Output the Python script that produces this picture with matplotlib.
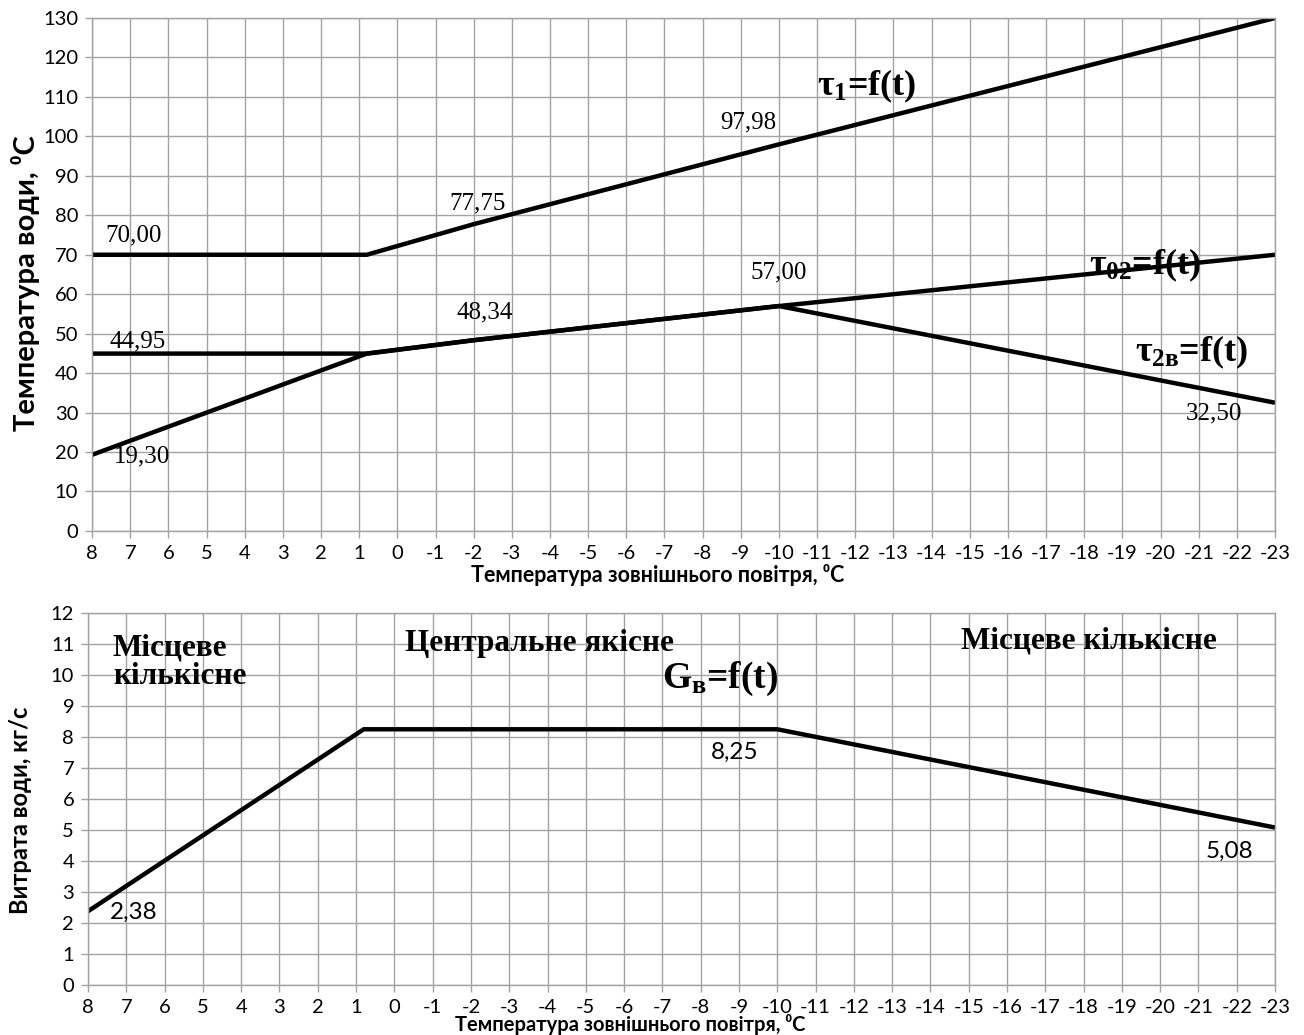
import matplotlib.pyplot as plt
import numpy as np

# --- дані графіка регулювання ---
t_axis = list(range(8, -24, -1))

t_tau1 = [8, 0.8, -2, -10, -23]
tau1 = [70.00, 70.00, 77.75, 97.98, 130.00]

t_tau02 = [8, 0.8, -2, -10, -23]
tau02 = [44.95, 44.95, 48.34, 57.00, 70.00]

t_tau2v = [8, 0.8, -2, -10, -23]
tau2v = [19.30, 44.95, 48.34, 57.00, 32.50]

t_G = [8, 0.8, -10, -23]
G = [2.38, 8.25, 8.25, 5.08]

plt.rcParams['mathtext.fontset'] = 'custom'
plt.rcParams['mathtext.rm'] = 'Liberation Serif:bold'
plt.rcParams['mathtext.it'] = 'Liberation Serif:bold'
plt.rcParams['mathtext.bf'] = 'Liberation Serif:bold'

sans = ['Lato', 'DejaVu Sans']
serif = ['Liberation Serif', 'DejaVu Serif']
grid_c = '#a3a3a3'


def style_axes(ax, ymax, ystep):
    ax.set_xlim(8, -23)
    ax.set_ylim(0, ymax)
    ax.set_xticks(t_axis)
    ax.set_xticklabels([str(v) for v in t_axis], fontsize=14.5, family=sans)
    yt = np.arange(0, ymax + 1, ystep)
    ax.set_yticks(yt)
    ax.set_yticklabels([str(int(v)) for v in yt], fontsize=14.5, family=sans)
    ax.grid(True, color=grid_c, linewidth=1)
    ax.set_axisbelow(True)
    for s in ax.spines.values():
        s.set_color(grid_c)
        s.set_linewidth(1)
    ax.tick_params(axis='both', colors=grid_c, length=5, width=1,
                   labelcolor='black', pad=5)


fig = plt.figure(figsize=(13.04, 10.35), dpi=100)

# верхній графік: температури води
ax1 = fig.add_axes([0.0706, 0.4870, 0.9072, 0.4956])
style_axes(ax1, 130, 10)
ax1.plot(t_tau1, tau1, color='black', lw=3.2, solid_capstyle='butt')
ax1.plot(t_tau02, tau02, color='black', lw=3.2, solid_capstyle='butt')
ax1.plot(t_tau2v, tau2v, color='black', lw=3.2, solid_capstyle='butt')

lbl = dict(fontsize=18, family=serif, ha='center', va='center')
ax1.text(6.9, 75.0, '70,00', **lbl)
ax1.text(6.8, 48.1, '44,95', **lbl)
ax1.text(6.7, 18.8, '19,30', **lbl)
ax1.text(-2.1, 82.9, '77,75', **lbl)
ax1.text(-9.2, 103.6, '97,98', **lbl)
ax1.text(-10.0, 65.6, '57,00', **lbl)
ax1.text(-2.3, 55.5, '48,34', **lbl)
ax1.text(-21.4, 29.9, '32,50', **lbl)

fn = dict(fontsize=26, ha='center', va='center', family=serif,
          fontweight='bold')
ax1.text(-12.3, 112.6, r'$τ_{1}$=f(t)', **fn)
ax1.text(-19.6, 67.2, r'$τ_{02}$=f(t)', **fn)
ax1.text(-20.8, 45.2, r'$τ_{2в}$=f(t)', **fn)

ax1.set_ylabel('Температура води, ⁰C', fontsize=21, fontweight='bold',
               family=sans)
ax1.yaxis.label.set_va('center')
ax1.yaxis.set_label_coords(-0.0566, 0.483)
ax1.set_xlabel('Температура зовнішнього повітря, ⁰C', fontsize=15.5,
               fontweight='bold', family=sans)
ax1.xaxis.label.set_va('center')
ax1.xaxis.set_label_coords(0.478, -0.085)

# нижній графік: витрата води
ax2 = fig.add_axes([0.0675, 0.0483, 0.9103, 0.3594])
style_axes(ax2, 12, 1)
ax2.plot(t_G, G, color='black', lw=3.2, solid_capstyle='butt')

lbl2 = dict(fontsize=17.5, family=sans, ha='center', va='center')
ax2.text(6.82, 2.35, '2,38', **lbl2)
ax2.text(-8.9, 7.5, '8,25', **lbl2)
ax2.text(-21.8, 4.3, '5,08', **lbl2)

reg = dict(fontsize=22.5, family=serif, fontweight='bold')
ax2.text(7.35, 10.41, 'Місцеве\nкількісне', ha='left', va='center',
         linespacing=0.95, **reg)
ax2.text(-3.8, 11.03, 'Центральне якісне', ha='center', va='center', **reg)
ax2.text(-18.15, 11.1, 'Місцеве кількісне', ha='center', va='center', **reg)
ax2.text(-8.5, 9.86, r'$\mathregular{G}_{в}$=f(t)',
         **dict(fn, fontsize=27))

ax2.set_ylabel('Витрата води, кг/с', fontsize=17, fontweight='bold',
               family=sans)
ax2.yaxis.label.set_va('center')
ax2.yaxis.set_label_coords(-0.0573, 0.47)
ax2.set_xlabel('Температура зовнішнього повітря, ⁰C', fontsize=14.5,
               fontweight='bold', family=sans)
ax2.xaxis.label.set_va('center')
ax2.xaxis.set_label_coords(0.457, -0.105)

fig.savefig('out.png', dpi=100)
